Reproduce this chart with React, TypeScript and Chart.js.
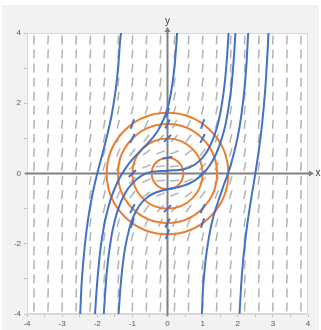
import React, { useEffect, useRef } from "react";
import { Chart, registerables } from "chart.js";
Chart.register(...registerables);

// Axis ticks
const X_MIN = -4;
const X_MAX = 4;
const Y_MIN = -4;
const Y_MAX = 4;

// Direction field grid (dy/dx = x^2 + y^2)
const fieldXs = [-3.8, -3.4, -3.0, -2.6, -2.2, -1.8, -1.4, -1.0, -0.6, -0.2, 0.2, 0.6, 1.0, 1.4, 1.8, 2.2, 2.6, 3.0, 3.4, 3.8];
const fieldYs = [-3.8, -3.4, -3.0, -2.6, -2.2, -1.8, -1.4, -1.0, -0.6, -0.2, 0.2, 0.6, 1.0, 1.4, 1.8, 2.2, 2.6, 3.0, 3.4, 3.8];

// Isocline circles (radii) x^2 + y^2 = k
const isoclineRadii = [0.45, 1, 1.41, 1.73];

// Direction marks on the isoclines
const markX = [0, 0, 0, 0, 1, -1, 0, 0, 1, 1, -1, -1, 0, 0, 1, 1, -1, -1];
const markY = [0.45, -0.45, 1, -1, 0, 0, 1.41, -1.41, 1, -1, 1, -1, 1.73, -1.73, 1.41, -1.41, 1.41, -1.41];
const markSlope = [0.2, 0.2, 1, 1, 1, 1, 2, 2, 2, 2, 2, 2, 3, 3, 3, 3, 3, 3];

// Solution curves
const curveAx = [-2.49, -2.45, -2.4, -2.3, -2.2, -2.1, -2.0, -1.9, -1.8, -1.7, -1.6, -1.5, -1.45, -1.4, -1.35, -1.31];
const curveAy = [-4.1, -3.22, -2.53, -1.58, -0.93, -0.42, 0, 0.38, 0.76, 1.16, 1.61, 2.2, 2.59, 3.09, 3.76, 4.1];

const curveBx = [-2.07, -2.0, -1.9, -1.8, -1.7, -1.6, -1.4, -1.2, -1.0, -0.8, -0.6, -0.4, -0.2, 0, 0.1, 0.2, 0.25, 0.28];
const curveBy = [-4.1, -3.08, -2.08, -1.46, -1.02, -0.68, -0.2, 0.14, 0.4, 0.615, 0.82, 1.04, 1.35, 1.85, 2.3, 3.05, 3.65, 4.1];

const curveCx = [-1.82, -1.8, -1.75, -1.7, -1.6, -1.5, -1.4, -1.2, -1.0, -0.75, -0.5, 0, 0.5, 0.75, 1.0, 1.2, 1.4, 1.5, 1.6, 1.65, 1.7, 1.745];
const curveCy = [-4.1, -3.79, -3.06, -2.53, -1.81, -1.34, -1.0, -0.55, -0.28, -0.07, 0.035, 0.08, 0.13, 0.235, 0.45, 0.76, 1.28, 1.7, 2.33, 2.78, 3.38, 4.1];

const curveDx = [-1.4, -1.38, -1.35, -1.3, -1.25, -1.2, -1.1, -1.0, -0.8, -0.6, -0.4, -0.2, 0, 0.2, 0.4, 0.6, 0.8, 1.0, 1.2, 1.4, 1.6, 1.7, 1.8, 1.85, 1.9, 1.935];
const curveDy = [-4.1, -3.81, -3.37, -2.82, -2.4, -2.08, -1.62, -1.3, -0.91, -0.695, -0.569, -0.496, -0.45, -0.411, -0.363, -0.291, -0.181, -0.016, 0.227, 0.593, 1.179, 1.641, 2.316, 2.8, 3.45, 4.05];

const curveEx = [0.975, 1.01, 1.05, 1.09, 1.17, 1.25, 1.33, 1.42, 1.51, 1.6, 1.72, 1.8, 1.9, 2.0, 2.1, 2.2, 2.25, 2.3];
const curveEy = [-4.1, -3.29, -2.8, -2.42, -1.87, -1.46, -1.14, -0.86, -0.6, -0.335, 0, 0.25, 0.61, 1.05, 1.64, 2.5, 3.14, 4.05];

const curveFx = [2.045, 2.1, 2.15, 2.2, 2.25, 2.3, 2.35, 2.4, 2.45, 2.5, 2.55, 2.6, 2.65, 2.7, 2.75, 2.8, 2.85, 2.88];
const curveFy = [-4.1, -3.13, -2.51, -2.02, -1.61, -1.25, -0.92, -0.61, -0.31, 0, 0.32, 0.66, 1.04, 1.48, 2.0, 2.64, 3.49, 4.1];

const BLUE = "#4472c4";
const ORANGE = "#ed7d31";
const FIELD_GRAY = "#b3b3b3";
const AXIS_GRAY = "#808080";
const TICK_COLOR = "#595959";

const pts = (xs: number[], ys: number[]) => xs.map((x, i) => ({ x, y: ys[i] }));
const toRot = (k: number) => (-Math.atan(k) * 180) / Math.PI;

export default function App() {
  const ref = useRef<HTMLCanvasElement | null>(null);

  useEffect(() => {
    if (!ref.current) return;

    const fieldPts: { x: number; y: number }[] = [];
    const fieldRot: number[] = [];
    for (const x of fieldXs) {
      for (const y of fieldYs) {
        fieldPts.push({ x, y });
        fieldRot.push(toRot(x * x + y * y));
      }
    }
    const markPts = pts(markX, markY);
    const markRot = markSlope.map(toRot);

    const curves = [
      pts(curveAx, curveAy),
      pts(curveBx, curveBy),
      pts(curveCx, curveCy),
      pts(curveDx, curveDy),
      pts(curveEx, curveEy),
      pts(curveFx, curveFy),
    ];

    const curveSets = curves.map((d) => ({
      data: d,
      showLine: true,
      borderColor: BLUE,
      borderWidth: 2,
      pointRadius: 0,
      pointHoverRadius: 0,
      cubicInterpolationMode: "monotone" as const,
      fill: false,
    }));

    const FIELD_INDEX = curveSets.length + 1;

    const framePlugin = {
      id: "frame",
      beforeDraw(chart: any) {
        const { ctx, chartArea: a } = chart;
        ctx.save();
        ctx.fillStyle = "#ffffff";
        ctx.fillRect(0, 0, chart.width, chart.height);
        ctx.fillStyle = "#f2f2f2";
        ctx.fillRect(2, 5, chart.width - 4, chart.height - 5);
        ctx.fillStyle = "#ffffff";
        ctx.fillRect(a.left, a.top, a.right - a.left, a.bottom - a.top);
        ctx.strokeStyle = "#d9d9d9";
        ctx.lineWidth = 1;
        ctx.strokeRect(a.left + 0.5, a.top + 0.5, a.right - a.left - 1, a.bottom - a.top - 1);
        ctx.restore();
      },
      afterDatasetDraw(chart: any, args: any) {
        if (args.index !== FIELD_INDEX) return;
        const { ctx, chartArea: a, scales } = chart;
        const xs = scales.x;
        const ys = scales.y;
        const x0 = xs.getPixelForValue(0);
        const y0 = ys.getPixelForValue(0);
        ctx.save();
        // axes lines
        ctx.strokeStyle = AXIS_GRAY;
        ctx.fillStyle = AXIS_GRAY;
        ctx.lineWidth = 2;
        ctx.beginPath();
        ctx.moveTo(a.left - 2, y0);
        ctx.lineTo(a.right + 2, y0);
        ctx.stroke();
        ctx.beginPath();
        ctx.moveTo(a.right + 6, y0);
        ctx.lineTo(a.right + 1, y0 - 3);
        ctx.lineTo(a.right + 1, y0 + 3);
        ctx.closePath();
        ctx.fill();
        ctx.beginPath();
        ctx.moveTo(x0, a.bottom + 2);
        ctx.lineTo(x0, a.top - 2);
        ctx.stroke();
        ctx.beginPath();
        ctx.moveTo(x0, a.top - 6);
        ctx.lineTo(x0 - 3, a.top - 1);
        ctx.lineTo(x0 + 3, a.top - 1);
        ctx.closePath();
        ctx.fill();
        ctx.fillStyle = "#404040";
        ctx.font = "10px 'Liberation Sans', sans-serif";
        ctx.textAlign = "center";
        ctx.textBaseline = "middle";
        ctx.fillText("x", a.right + 10, y0);
        ctx.fillText("y", x0, a.top - 12);
        // isocline circles
        ctx.strokeStyle = ORANGE;
        ctx.lineWidth = 2;
        for (const r of isoclineRadii) {
          const rp = xs.getPixelForValue(r) - x0;
          ctx.beginPath();
          ctx.arc(x0, y0, rp, 0, Math.PI * 2);
          ctx.stroke();
        }
        ctx.restore();
      },
    };

    const chart = new Chart(ref.current, {
      type: "scatter",
      data: {
        datasets: [
          ...curveSets,
          {
            data: markPts,
            showLine: false,
            pointStyle: "line",
            pointRadius: 5,
            pointHoverRadius: 5,
            pointBorderColor: BLUE,
            pointBackgroundColor: BLUE,
            pointBorderWidth: 2,
            pointRotation: markRot,
          } as any,
          {
            data: fieldPts,
            showLine: false,
            pointStyle: "line",
            pointRadius: 4.5,
            pointHoverRadius: 4.5,
            pointBorderColor: FIELD_GRAY,
            pointBackgroundColor: FIELD_GRAY,
            pointBorderWidth: 1.5,
            pointRotation: fieldRot,
          } as any,
        ],
      },
      options: {
        responsive: false,
        animation: false,
        events: [],
        layout: { padding: { left: 0, top: 33, right: 13, bottom: 0 } },
        plugins: { legend: { display: false }, tooltip: { enabled: false } },
        scales: {
          x: {
            type: "linear",
            min: X_MIN,
            max: X_MAX,
            afterFit: (s: any) => {
              s.height = 16;
            },
            grid: { drawOnChartArea: false, drawTicks: true, tickLength: 3, color: "#bfbfbf" },
            border: { display: true, color: "#d9d9d9" },
            ticks: {
              stepSize: 0.5,
              autoSkip: false,
              maxRotation: 0,
              padding: 2,
              color: TICK_COLOR,
              font: { size: 8, family: "'Liberation Sans', sans-serif" },
              callback: (v: any) => (Number.isInteger(Number(v)) ? String(v) : ""),
            },
          },
          y: {
            type: "linear",
            min: Y_MIN,
            max: Y_MAX,
            afterFit: (s: any) => {
              s.width = 27;
            },
            grid: { drawOnChartArea: false, drawTicks: true, tickLength: 3, color: "#bfbfbf" },
            border: { display: true, color: "#d9d9d9" },
            ticks: {
              stepSize: 1,
              autoSkip: false,
              padding: 3,
              color: TICK_COLOR,
              font: { size: 8, family: "'Liberation Sans', sans-serif" },
              callback: (v: any) => (Number(v) % 2 === 0 ? String(v) : ""),
            },
          },
        },
      },
      plugins: [framePlugin],
    } as any);

    return () => chart.destroy();
  }, []);

  return (
    <div style={{ position: "absolute", left: 0, top: 0, width: 321, height: 330 }}>
      <canvas ref={ref} width={321} height={330} style={{ display: "block", width: 321, height: 330 }} />
    </div>
  );
}
